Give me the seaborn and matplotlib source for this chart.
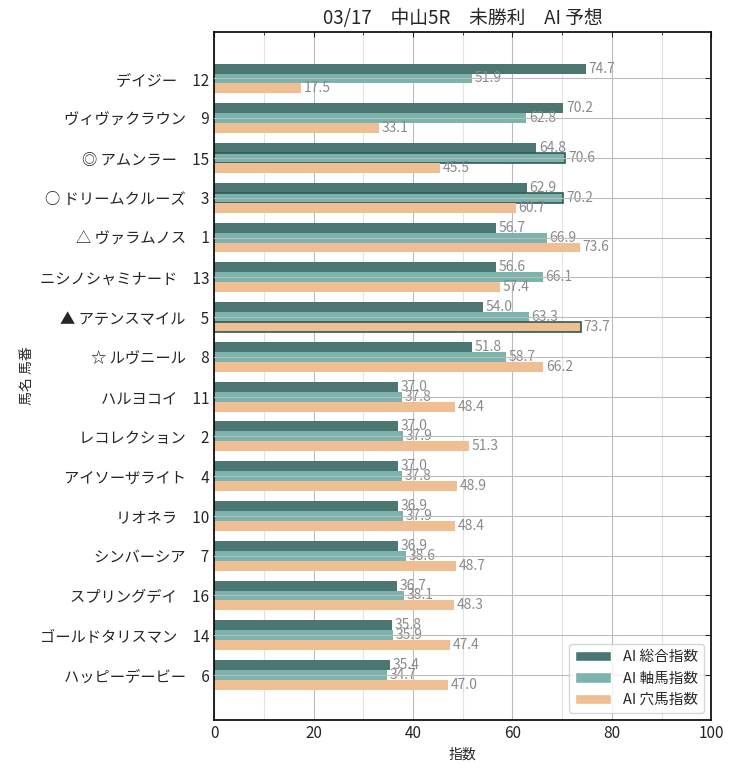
import numpy as np
import pandas as pd
import matplotlib
matplotlib.use("Agg")
import matplotlib.pyplot as plt
import seaborn as sns
from matplotlib.ticker import MultipleLocator

# horse names and numbers (top to bottom)
names = ["デイジー", "ヴィヴァクラウン", "◎ アムンラー", "○ ドリームクルーズ", "△ ヴァラムノス",
         "ニシノシャミナード", "▲ アテンスマイル", "☆ ルヴニール", "ハルヨコイ", "レコレクション",
         "アイソーザライト", "リオネラ", "シンバーシア", "スプリングデイ", "ゴールドタリスマン",
         "ハッピーデービー"]
numbers = [12, 9, 15, 3, 1, 13, 5, 8, 11, 2, 4, 10, 7, 16, 14, 6]
sogo = [74.7, 70.2, 64.8, 62.9, 56.7, 56.6, 54.0, 51.8, 37.0, 37.0, 37.0, 36.9, 36.9, 36.7, 35.8, 35.4]
jiku = [51.9, 62.8, 70.6, 70.2, 66.9, 66.1, 63.3, 58.7, 37.8, 37.9, 37.8, 37.9, 38.6, 38.1, 35.9, 34.7]
ana = [17.5, 33.1, 45.5, 60.7, 73.6, 57.4, 73.7, 66.2, 48.4, 51.3, 48.9, 48.4, 48.7, 48.3, 47.4, 47.0]
series = ["AI 総合指数", "AI 軸馬指数", "AI 穴馬指数"]
# bars drawn with an outline: (series index, horse index)
highlight = [(1, 2), (1, 3), (2, 6)]

colors = ["#4b7671", "#7bb3ad", "#efbe93"]

labels = [f"{n}　{k}" for n, k in zip(names, numbers)]
df = pd.DataFrame({
    "label": labels * 3,
    "value": sogo + jiku + ana,
    "series": np.repeat(series, len(labels)),
})

sns.set_style("white")
plt.rcParams["font.family"] = ["Noto Sans CJK JP", "DejaVu Sans"]

fig, ax = plt.subplots(figsize=(7.34, 7.70), dpi=100)
sns.barplot(data=df, y="label", x="value", hue="series", palette=colors,
            orient="h", width=0.75, ax=ax, saturation=1, legend=True)

for si, container in enumerate(ax.containers):
    for bar in container:
        bar.set_edgecolor("none")
    ax.bar_label(container, fmt="%.1f", padding=2, color="#8a8a8a", fontsize=10)
for si, hi in highlight:
    bar = ax.containers[si][hi]
    bar.set_edgecolor("#2f5a55")
    bar.set_linewidth(1.2)

ax.set_xlim(0, 100)
ax.set_ylim(len(labels) - 1 + 1.13, -1.16)
ax.xaxis.set_major_locator(MultipleLocator(20))
ax.xaxis.set_minor_locator(MultipleLocator(10))
ax.grid(which="major", axis="both", color="#bbbbbb", linewidth=0.8)
ax.grid(which="minor", axis="x", color="#e2e2e2", linewidth=0.8)
ax.set_axisbelow(True)
ax.yaxis.set_zorder(5)
ax.tick_params(which="both", direction="in", top=True, right=True, labelsize=11)
ax.tick_params(axis="y", which="major", length=4)
for s in ax.spines.values():
    s.set_color("black")
    s.set_linewidth(1.2)

ax.set_xlabel("指数", fontsize=10)
ax.set_ylabel("馬名 馬番", fontsize=10)
ax.set_title("03/17　中山5R　未勝利　AI 予想", fontsize=13.5)
ax.legend(loc="lower right", fontsize=10.5, handlelength=2.5, frameon=True)

fig.subplots_adjust(left=0.292, right=0.969, top=0.958, bottom=0.065)
fig.savefig("out.png", dpi=100)
